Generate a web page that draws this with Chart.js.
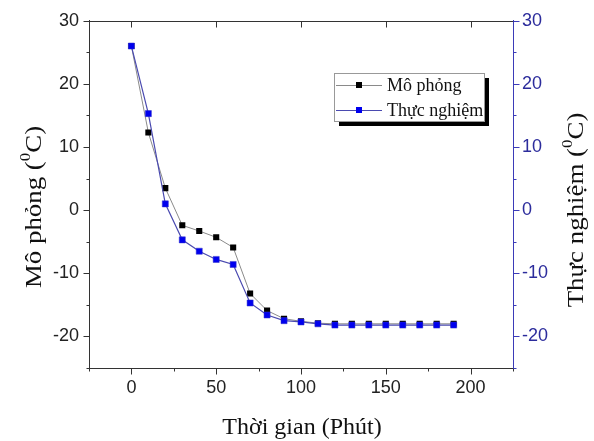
<!DOCTYPE html>
<html>
<head>
<meta charset="utf-8">
<script src="https://cdn.jsdelivr.net/npm/chart.js@4/dist/chart.umd.min.js"></script>
<style>
  body { margin: 0; background: #fff; }
  canvas { display: block; }
</style>
</head>
<body>
<canvas id="chart" width="594" height="441"></canvas>
<script>
// 데이터
const times = [0, 10, 20, 30, 40, 50, 60, 70, 80, 90, 100, 110, 120, 130, 140, 150, 160, 170, 180, 190];
const moPhong = [26, 12.3, 3.5, -2.4, -3.3, -4.3, -5.9, -13.2, -15.9, -17.2, -17.6, -17.9, -18.0, -18.0, -18.0, -18.0, -18.0, -18.0, -18.0, -18.0];
const thucNghiem = [26, 15.3, 1.0, -4.7, -6.5, -7.8, -8.6, -14.7, -16.6, -17.5, -17.7, -18.0, -18.2, -18.2, -18.2, -18.2, -18.2, -18.2, -18.2, -18.2];
const xTickLabels = [0, 50, 100, 150, 200];
const yTickLabels = [-20, -10, 0, 10, 20, 30];

const SERIF = '"Liberation Serif", "Times New Roman", serif';
const SANS = '"Liberation Sans", Arial, sans-serif';
const BLUE_AXIS = '#3b3bb8';
const BLUE_TEXT = '#2c2c9c';

// 위첨자 0 이 들어간 축 제목 그리기
function drawTitle(ctx, before, sup, after, size) {
  ctx.font = size + 'px ' + SERIF;
  const w1 = ctx.measureText(before).width;
  const w3 = ctx.measureText(after).width;
  ctx.font = Math.round(size * 0.62) + 'px ' + SERIF;
  const w2 = ctx.measureText(sup).width;
  let x = -(w1 + w2 + w3) / 2;
  ctx.textAlign = 'left';
  ctx.textBaseline = 'middle';
  ctx.font = size + 'px ' + SERIF;
  ctx.fillText(before, x, 0);
  x += w1;
  ctx.font = Math.round(size * 0.62) + 'px ' + SERIF;
  ctx.fillText(sup, x, -size * 0.38);
  x += w2;
  ctx.font = size + 'px ' + SERIF;
  ctx.fillText(after, x, 0);
}

function line(ctx, x1, y1, x2, y2) {
  ctx.beginPath();
  ctx.moveTo(x1, y1);
  ctx.lineTo(x2, y2);
  ctx.stroke();
}

// 눈금, 윗선, 제목, 범례
const framePlugin = {
  id: 'frame',
  afterDraw(chart) {
    const ctx = chart.ctx;
    const a = chart.chartArea;
    const sx = chart.scales.x, sy = chart.scales.y, sy2 = chart.scales.y2;
    const L = Math.round(a.left) + 0.5, R = Math.round(a.right) + 0.5;
    const T = Math.round(a.top) + 0.5, B = Math.round(a.bottom) + 0.5;
    ctx.save();
    ctx.lineWidth = 1;
    ctx.strokeStyle = '#333';
    line(ctx, L, T, R, T);

    sx.ticks.forEach(t => {
      const px = Math.round(sx.getPixelForValue(t.value)) + 0.5;
      const major = t.value % 50 === 0;
      line(ctx, px, B, px, B + (major ? 6 : 3));
      if (major) line(ctx, px, T, px, T + 6);
    });
    sy.ticks.forEach(t => {
      const py = Math.round(sy.getPixelForValue(t.value)) + 0.5;
      const major = t.value % 10 === 0;
      line(ctx, L, py, L - (major ? 6 : 3), py);
    });
    ctx.strokeStyle = BLUE_AXIS;
    sy2.ticks.forEach(t => {
      const py = Math.round(sy2.getPixelForValue(t.value)) + 0.5;
      const major = t.value % 10 === 0;
      line(ctx, R, py, R + (major ? 6 : 3), py);
    });

    // 축 제목 (세로 제목은 원본처럼 살짝 늘림)
    ctx.fillStyle = '#111';
    ctx.save();
    ctx.translate(35, 207);
    ctx.rotate(-Math.PI / 2);
    ctx.scale(1.12, 1);
    drawTitle(ctx, 'Mô phỏng (', '0', 'C)', 24);
    ctx.restore();

    ctx.save();
    ctx.translate(577, 210);
    ctx.rotate(-Math.PI / 2);
    ctx.scale(1.12, 1);
    drawTitle(ctx, 'Thực nghiệm (', '0', 'C)', 24);
    ctx.restore();

    ctx.save();
    ctx.translate(302, 428);
    drawTitle(ctx, 'Thời gian (Phút)', '', '', 24);
    ctx.restore();

    // 범례 (그림자 박스)
    const bx = 334, by = 73, bw = 150, bh = 48;
    ctx.fillStyle = '#000';
    ctx.fillRect(bx + 5, by + 5, bw, bh);
    ctx.fillStyle = '#fff';
    ctx.fillRect(bx, by, bw, bh);
    ctx.strokeStyle = '#999';
    ctx.strokeRect(bx + 0.5, by + 0.5, bw, bh);
    chart.data.datasets.forEach((ds, i) => {
      const y = by + 12 + i * 25;
      ctx.strokeStyle = ds.borderColor;
      ctx.lineWidth = 1;
      line(ctx, bx + 2, y + 0.5, bx + 48, y + 0.5);
      ctx.fillStyle = ds.pointBackgroundColor;
      ctx.fillRect(bx + 22, y - 3, 6, 6);
      ctx.fillStyle = '#111';
      ctx.font = '18px ' + SERIF;
      ctx.textAlign = 'left';
      ctx.textBaseline = 'middle';
      ctx.fillText(ds.label, bx + 53, y + 1);
    });
    ctx.restore();
  }
};

new Chart(document.getElementById('chart'), {
  type: 'line',
  data: {
    labels: times,
    datasets: [
      {
        label: 'Mô phỏng',
        data: times.map((t, i) => ({ x: t, y: moPhong[i] })),
        borderColor: '#8a8a8a',
        borderWidth: 1,
        pointStyle: 'rect',
        pointRadius: 4.3,
        pointBackgroundColor: '#000',
        pointBorderColor: '#000',
        pointBorderWidth: 0,
        yAxisID: 'y',
        order: 1
      },
      {
        label: 'Thực nghiệm',
        data: times.map((t, i) => ({ x: t, y: thucNghiem[i] })),
        borderColor: '#4a4ab0',
        borderWidth: 1.2,
        pointStyle: 'rect',
        pointRadius: 4.3,
        pointBackgroundColor: '#0000ee',
        pointBorderColor: '#3030c8',
        pointBorderWidth: 0.5,
        yAxisID: 'y2',
        order: 0
      }
    ]
  },
  options: {
    responsive: false,
    animation: false,
    layout: { padding: { top: 17, left: 0, right: 0, bottom: 0 } },
    plugins: { legend: { display: false }, tooltip: { enabled: false } },
    elements: { line: { tension: 0 } },
    scales: {
      x: {
        type: 'linear',
        min: -25,
        max: 225,
        afterFit: s => { s.height = 73; },
        border: { color: '#333', width: 1 },
        grid: { drawOnChartArea: false, drawTicks: false },
        ticks: {
          stepSize: 25,
          autoSkip: false,
          maxRotation: 0,
          padding: 9,
          color: '#222',
          font: { family: SANS, size: 18 },
          callback: v => xTickLabels.includes(v) ? String(v) : ''
        }
      },
      y: {
        position: 'left',
        min: -25,
        max: 30,
        afterFit: s => { s.width = 89; },
        border: { color: '#333', width: 1 },
        grid: { drawOnChartArea: false, drawTicks: false },
        ticks: {
          stepSize: 5,
          autoSkip: false,
          padding: 10,
          color: '#222',
          font: { family: SANS, size: 18 },
          callback: v => yTickLabels.includes(v) ? String(v) : ''
        }
      },
      y2: {
        position: 'right',
        min: -25,
        max: 30,
        afterFit: s => { s.width = 81; },
        border: { color: BLUE_AXIS, width: 1 },
        grid: { drawOnChartArea: false, drawTicks: false },
        ticks: {
          stepSize: 5,
          autoSkip: false,
          padding: 9,
          color: BLUE_TEXT,
          font: { family: SANS, size: 18 },
          callback: v => yTickLabels.includes(v) ? String(v) : ''
        }
      }
    }
  },
  plugins: [framePlugin]
});
</script>
</body>
</html>
